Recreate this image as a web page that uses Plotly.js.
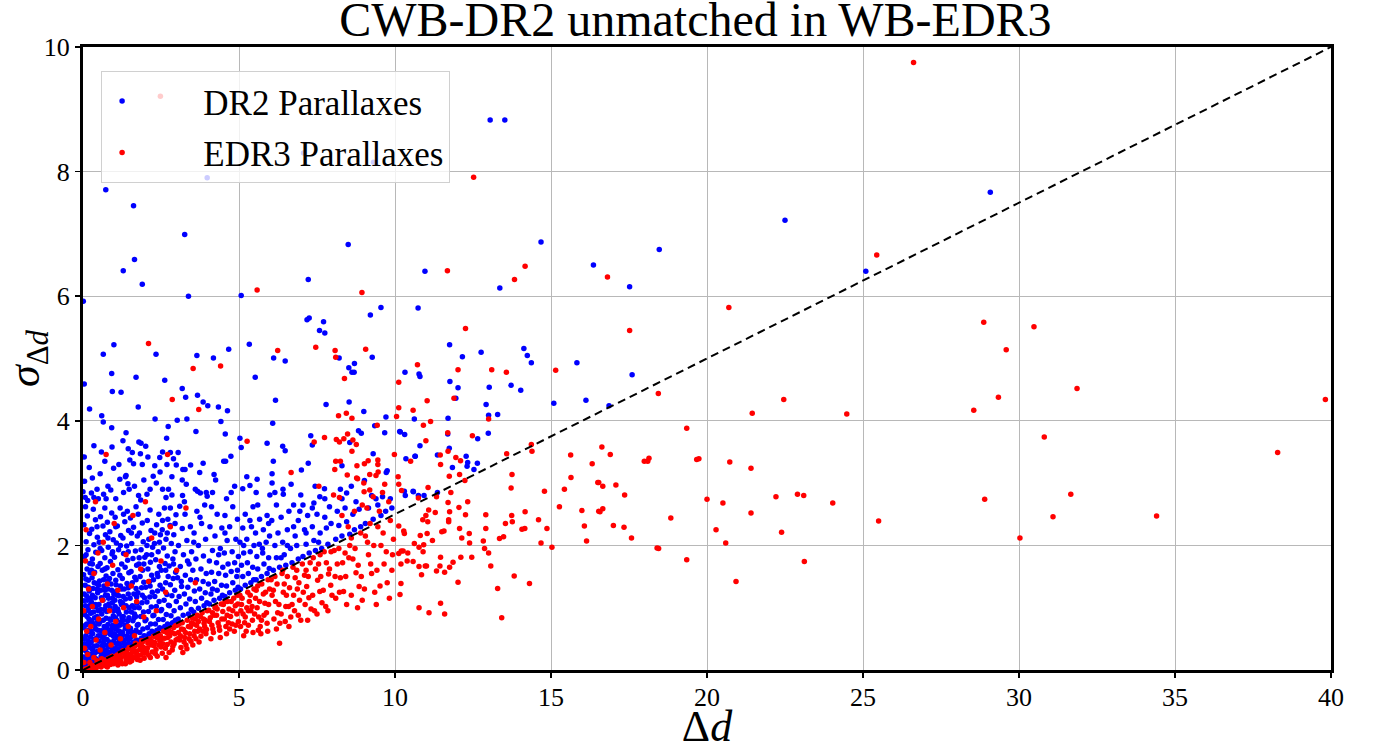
<!DOCTYPE html>
<html>
<head>
<meta charset="utf-8">
<script src="https://cdn.plot.ly/plotly-3.0.1.min.js"></script>
<style>html,body{margin:0;padding:0;background:#fff;}#chart{width:1377px;height:751px;}</style>
</head>
<body>
<div id="chart"></div>
<script>
// ---- DR2 parallaxes (blue): sparse points ----
const dr2Sparse = [
[0.01,5.92],[0.04,4.59],[0.99,5.22],[0.65,5.07],[2.34,5.07],[0.92,4.76],[0.94,4.47],[1.22,4.46],[1.70,4.70],[2.62,4.65],[3.65,5.05],[4.18,5.01],[4.67,5.15],[5.33,5.23],[6.11,5.01],[6.48,4.96],[5.52,4.70],[7.18,5.62],[7.25,5.65],[7.71,5.59],[7.58,5.45],[7.75,5.41],[8.21,5.01],[8.52,4.85],[8.70,4.92],[8.62,4.78],[8.69,4.78],[9.21,5.70],[9.55,5.82],[9.27,5.02],[10.74,5.81],[10.32,4.78],[10.77,4.75],[10.80,4.71],
[0.21,4.19],[0.60,4.08],[0.65,3.98],[0.92,3.89],[1.77,4.22],[2.31,4.03],[3.18,4.52],[3.29,4.38],[3.67,4.41],[3.85,4.30],[4.00,4.24],[4.34,4.22],[4.63,4.16],[3.02,4.01],[3.33,4.03],[2.73,3.91],[4.42,3.99],[3.62,3.83],[4.56,3.79],[1.38,3.81],[1.28,3.68],[0.93,3.58],[1.79,3.66],[1.86,3.64],[2.01,3.59],[2.68,3.72],[0.59,3.50],[0.04,3.42],[1.58,3.49],[1.84,3.47],[2.08,3.42],[1.50,3.37],[1.62,3.31],[2.46,3.41],[2.80,3.49],[3.05,3.49],[2.90,3.39],[2.30,3.28],[2.69,3.30],[2.99,3.29],[3.20,3.22],[3.27,3.22],[3.45,3.29],[3.85,3.32],[4.51,3.35],[4.57,3.35],[4.74,3.43],[2.47,3.18],[2.25,3.11],[3.74,3.17],[4.20,3.14],[0.98,3.24],[0.30,3.08],[0.05,3.03],[1.18,3.06],[1.36,3.10],[1.38,3.12],[1.44,2.99],[1.48,2.90],[0.89,2.89],[2.15,2.90],[3.18,3.05],[3.31,2.98],[2.74,2.90],[3.67,2.87],[3.76,2.84],[4.15,2.85],[0.27,2.84],[0.66,2.82],[0.74,2.75],[1.78,2.80],[2.66,2.77],[2.85,2.81],[3.19,2.80],[3.98,2.79],[4.86,2.95],[5.12,2.91],[5.35,2.96],[5.58,3.06],[5.03,3.72],[5.07,3.57],[5.90,3.64],[6.08,3.96],[6.17,4.33],[6.40,3.59],[6.48,3.52],[6.10,3.35],[6.06,3.15],[6.06,3.00],[7.00,3.21],[7.22,3.32],[6.67,2.98],[6.41,2.90],[6.42,2.82],[5.99,2.81],[6.98,2.81],[7.44,2.95],[7.74,2.91],[7.59,2.78],[7.79,4.26],[7.30,3.76],[7.35,3.61],[8.53,4.30],[9.00,4.15],[9.71,4.06],[9.35,3.92],[8.83,3.84],[8.92,3.80],[9.67,3.81],[8.55,3.65],[9.30,3.47],[8.30,3.28],[9.02,3.04],[9.75,3.20],[9.72,3.17],[9.39,2.75],[10.15,3.83],[10.31,3.78],[10.80,3.60],[10.64,3.43],[10.35,3.39],[10.30,2.87],[10.58,2.87],[10.75,2.80],[10.93,2.80],[8.45,2.84],[1.85,2.73],[0.00,2.86],[0.07,2.77],[0.35,2.77],[0.49,2.75],
[11.75,5.22],[12.16,5.03],[12.76,5.10],[14.13,5.16],[14.24,5.05],[14.37,4.93],[11.76,4.63],[12.02,4.53],[13.02,4.54],[13.72,4.57],[14.03,4.49],[15.83,4.93],[17.60,4.74],[15.09,4.28],[16.12,4.33],[16.86,4.24],[11.95,4.36],[10.62,4.03],[11.70,4.04],[12.92,4.26],[13.00,4.09],[13.29,4.10],[10.17,3.82],[11.69,3.79],[12.65,3.71],[12.99,3.80],[11.74,3.56],[10.65,3.43],[11.36,3.45],[12.28,3.43],[12.33,3.33],[12.31,3.27],[12.64,3.32],[11.84,3.25],[12.53,3.22],[10.59,2.86],[10.33,2.80],[11.36,2.85],
[29.08,7.67],[22.50,7.22],[18.47,6.75],[17.52,6.15],[25.09,6.40],
[0.73,7.71],[1.62,7.45],[3.26,6.99],[1.65,6.59],[1.29,6.41],[1.90,6.19],[3.38,6.00],[5.07,6.01],[7.22,6.27],[8.50,6.83],[10.96,6.40],[13.36,6.13],[14.68,6.87],[16.36,6.50],
[13.05,8.83],[13.52,8.83],[3.98,7.90],[7.07,8.30],[9.31,8.15]
];
// ---- DR2 parallaxes (blue): dense cloud near the origin ----
const dr2Dense = [
[0.02,0.05],[0.05,0.12],[0.11,0.08],[0.03,0.21],[0.18,0.15],[0.08,0.31],[0.14,0.27],[0.22,0.36],[0.04,0.42],[0.16,0.47],[0.09,0.55],[0.21,0.61],[0.02,0.68],[0.12,0.74],[0.19,0.82],[0.06,0.89],[0.15,0.96],[0.23,1.04],[0.03,1.11],[0.11,1.19],[0.2,1.27],[0.07,1.36],[0.17,1.44],[0.02,1.53],[0.13,1.62],[0.22,1.71],[0.05,1.82],[0.16,1.93],[0.1,2.06],[0.21,2.19],[0.03,2.33],[0.14,2.47],[0.08,2.62],
[0.27,0.09],[0.33,0.14],[0.41,0.18],[0.29,0.26],[0.46,0.3],[0.36,0.38],[0.26,0.44],[0.43,0.51],[0.31,0.58],[0.48,0.64],[0.38,0.71],[0.28,0.79],[0.45,0.86],[0.34,0.93],[0.42,1.01],[0.27,1.09],[0.39,1.16],[0.47,1.24],[0.32,1.31],[0.44,1.39],[0.29,1.48],[0.37,1.57],[0.48,1.66],[0.3,1.78],[0.41,1.89],[0.35,2.01],[0.46,2.13],[0.28,2.26],[0.4,2.41],[0.33,2.58],
[0.53,0.16],[0.61,0.21],[0.7,0.24],[0.56,0.29],[0.66,0.33],[0.73,0.4],[0.52,0.46],[0.63,0.52],[0.71,0.58],[0.58,0.63],[0.68,0.7],[0.54,0.77],[0.74,0.83],[0.6,0.9],[0.69,0.97],[0.51,1.05],[0.64,1.12],[0.72,1.2],[0.57,1.28],[0.67,1.35],[0.53,1.43],[0.74,1.51],[0.62,1.6],[0.55,1.71],[0.7,1.8],[0.6,1.92],[0.52,2.05],[0.72,2.17],[0.64,2.31],[0.56,2.46],[0.7,2.6],
[0.78,0.23],[0.86,0.27],[0.95,0.31],[0.81,0.37],[0.91,0.43],[0.77,0.49],[0.98,0.54],[0.84,0.6],[0.93,0.67],[0.8,0.73],[0.89,0.8],[0.97,0.87],[0.76,0.94],[0.87,1.0],[0.94,1.08],[0.82,1.15],[0.99,1.22],[0.79,1.3],[0.9,1.38],[0.85,1.47],[0.96,1.55],[0.77,1.64],[0.88,1.74],[0.93,1.86],[0.81,1.97],[0.97,2.09],[0.86,2.22],[0.78,2.37],[0.92,2.52],
[1.03,0.29],[1.12,0.33],[1.21,0.36],[1.07,0.42],[1.17,0.47],[1.24,0.53],[1.01,0.58],[1.14,0.63],[1.09,0.71],[1.22,0.77],[1.04,0.84],[1.16,0.9],[1.11,0.98],[1.23,1.05],[1.02,1.12],[1.15,1.19],[1.08,1.27],[1.2,1.35],[1.05,1.44],[1.18,1.52],[1.12,1.61],[1.24,1.7],[1.01,1.81],[1.14,1.93],[1.07,2.04],[1.21,2.16],[1.1,2.31],[1.03,2.45],[1.19,2.6],
[1.28,0.35],[1.37,0.39],[1.46,0.43],[1.31,0.48],[1.42,0.55],[1.26,0.61],[1.49,0.66],[1.34,0.72],[1.44,0.79],[1.29,0.86],[1.39,0.93],[1.48,1.0],[1.27,1.07],[1.36,1.14],[1.45,1.22],[1.32,1.3],[1.41,1.39],[1.26,1.47],[1.47,1.56],[1.35,1.65],[1.43,1.76],[1.3,1.87],[1.4,1.99],[1.28,2.12],[1.46,2.24],[1.34,2.38],[1.42,2.55],
[1.53,0.41],[1.62,0.45],[1.71,0.48],[1.57,0.54],[1.67,0.6],[1.52,0.67],[1.74,0.72],[1.6,0.79],[1.69,0.86],[1.55,0.93],[1.65,1.0],[1.73,1.07],[1.51,1.15],[1.63,1.22],[1.7,1.31],[1.58,1.4],[1.66,1.49],[1.54,1.58],[1.72,1.68],[1.6,1.79],[1.68,1.91],[1.56,2.03],[1.74,2.15],[1.62,2.29],[1.52,2.44],[1.7,2.62],
[1.78,0.47],[1.87,0.51],[1.96,0.55],[1.82,0.6],[1.92,0.66],[1.77,0.73],[1.99,0.79],[1.85,0.86],[1.94,0.93],[1.8,1.0],[1.89,1.08],[1.97,1.16],[1.76,1.24],[1.88,1.32],[1.95,1.41],[1.83,1.5],[1.91,1.6],[1.79,1.7],[1.98,1.81],[1.86,1.93],[1.93,2.06],[1.81,2.2],[1.9,2.36],[1.77,2.5],
[2.03,0.54],[2.12,0.58],[2.21,0.62],[2.07,0.68],[2.17,0.74],[2.02,0.81],[2.24,0.87],[2.1,0.94],[2.19,1.01],[2.05,1.09],[2.14,1.17],[2.22,1.25],[2.01,1.33],[2.13,1.42],[2.2,1.52],[2.08,1.62],[2.16,1.73],[2.04,1.85],[2.23,1.97],[2.11,2.1],[2.18,2.24],[2.06,2.4],[2.15,2.57],
[2.28,0.6],[2.37,0.64],[2.46,0.68],[2.32,0.74],[2.42,0.81],[2.27,0.88],[2.49,0.95],[2.35,1.02],[2.44,1.1],[2.3,1.18],[2.39,1.27],[2.47,1.36],[2.26,1.45],[2.38,1.55],[2.45,1.66],[2.33,1.77],[2.41,1.9],[2.29,2.03],[2.48,2.17],[2.36,2.33],[2.43,2.5],
[2.53,0.66],[2.62,0.7],[2.71,0.74],[2.57,0.81],[2.67,0.89],[2.52,0.97],[2.74,1.04],[2.6,1.12],[2.69,1.21],[2.55,1.3],[2.65,1.4],[2.73,1.5],[2.51,1.6],[2.63,1.71],[2.7,1.83],[2.58,1.96],[2.66,2.1],[2.54,2.25],[2.72,2.42],[2.61,2.6],
[2.78,0.72],[2.87,0.76],[2.96,0.8],[2.82,0.87],[2.92,0.95],[2.77,1.03],[2.99,1.1],[2.85,1.19],[2.94,1.28],[2.8,1.37],[2.89,1.47],[2.97,1.57],[2.76,1.67],[2.88,1.78],[2.95,1.9],[2.83,2.03],[2.91,2.17],[2.79,2.32],[2.98,2.49],
[0.06,0.02],[0.12,0.04],[0.19,0.06],[0.24,0.1],[0.09,0.18],[0.01,0.33],[0.25,0.22],[0.2,0.42],[0.11,0.39],[0.06,0.5],[0.24,0.53],[0.17,0.64],[0.08,0.72],[0.23,0.77],[0.13,0.86],[0.03,0.93],[0.25,0.91],[0.19,1.0],[0.08,1.03],[0.14,1.12],[0.24,1.15],[0.04,1.22],[0.17,1.33],[0.09,1.46],[0.23,1.56],
[0.37,0.2],[0.3,0.33],[0.44,0.39],[0.35,0.49],[0.49,0.55],[0.26,0.62],[0.4,0.66],[0.31,0.75],[0.47,0.78],[0.37,0.84],[0.26,0.92],[0.49,0.95],[0.4,1.05],[0.3,1.2],[0.45,1.3],[0.36,1.4],[0.27,1.6],
[0.58,0.22],[0.67,0.27],[0.74,0.31],[0.6,0.39],[0.55,0.55],[0.7,0.5],[0.62,0.62],[0.75,0.66],[0.51,0.74],[0.65,0.8],[0.57,0.97],[0.73,1.03],[0.59,1.16],[0.7,1.28],[0.5,1.36],[0.66,1.45],
[0.81,0.29],[0.92,0.36],[0.85,0.45],[0.99,0.47],[0.88,0.57],[0.79,0.65],[0.95,0.72],[0.86,0.82],[0.99,0.95],[0.83,1.06],[0.95,1.15],[0.78,1.2],[0.92,1.28],[0.8,1.43],
[1.06,0.35],[1.19,0.41],[1.1,0.52],[1.22,0.6],[1.05,0.66],[1.18,0.72],[1.08,0.8],[1.25,0.84],[1.13,0.94],[1.03,1.02],[1.2,1.1],[1.1,1.2],[1.24,1.3],[1.06,1.37],
[1.33,0.43],[1.41,0.5],[1.27,0.56],[1.45,0.61],[1.36,0.67],[1.3,0.8],[1.47,0.84],[1.38,1.03],[1.29,1.18],[1.45,1.32],[1.5,0.5],[1.58,0.6],[1.7,0.64],[1.64,0.84],[1.58,1.03],[1.72,1.17],
[0.15,2.72],[0.45,2.9],[0.55,3.15],[0.8,2.95],[1.05,2.75],[1.15,3.3],[1.3,2.85],[1.65,2.95],[1.95,3.05],[2.05,2.82],[2.35,3.0],[2.55,2.9],[2.85,3.1],[0.2,3.25],[0.7,3.35],[1.9,3.3],[2.55,3.5],[0.35,3.6],[1.45,3.55],
[0.15,0.2],[0.4,0.28],[0.65,0.44],[0.9,0.62],[1.15,0.55],[1.4,0.72],[1.65,0.9],[1.9,1.2],[2.15,1.35],[2.4,1.5],[2.65,1.6],[2.9,1.7],[0.3,1.7],[0.55,1.95],[0.8,2.12],[1.05,2.3],[1.3,2.5],[1.55,2.2],[1.8,1.8],[2.05,2.0],[2.3,2.2],[2.55,2.4],[2.8,2.6],[0.1,1.85],[0.45,2.3],[0.7,1.62],[0.95,1.9],[1.2,2.0],[1.45,1.9],[1.7,1.45],[1.95,1.7],[2.2,1.85],[2.45,2.05],[2.7,2.2],[2.95,2.35]
];
// ---- DR2 parallaxes (blue): medium-density region ----
const dr2Mid = [
[3.05,0.82],[3.21,0.88],[3.38,0.9],[3.12,1.0],[3.3,1.06],[3.47,0.97],[3.08,1.18],[3.25,1.22],[3.42,1.14],[3.16,1.34],[3.36,1.33],[3.03,1.48],[3.28,1.52],[3.45,1.45],[3.12,1.66],[3.4,1.7],[3.22,1.85],[3.48,1.9],[3.06,2.0],[3.33,2.08],[3.18,2.27],[3.44,2.3],[3.27,2.5],[3.1,2.63],
[3.55,0.93],[3.7,0.99],[3.88,1.03],[3.6,1.1],[3.8,1.15],[3.97,1.08],[3.57,1.27],[3.74,1.3],[3.92,1.24],[3.64,1.45],[3.85,1.42],[3.52,1.6],[3.78,1.62],[3.95,1.55],[3.62,1.78],[3.86,1.83],[3.7,2.0],[3.93,2.1],[3.56,2.2],[3.8,2.35],[3.65,2.55],[3.9,2.65],
[4.05,1.06],[4.2,1.12],[4.38,1.15],[4.1,1.22],[4.3,1.28],[4.47,1.2],[4.02,1.38],[4.22,1.42],[4.44,1.36],[4.12,1.57],[4.35,1.55],[4.05,1.75],[4.28,1.72],[4.48,1.65],[4.15,1.92],[4.4,1.95],[4.23,2.15],[4.07,2.3],[4.45,2.28],[4.3,2.5],[4.12,2.62],
[4.55,1.18],[4.7,1.24],[4.88,1.28],[4.6,1.35],[4.8,1.4],[4.97,1.33],[4.57,1.52],[4.75,1.58],[4.93,1.5],[4.65,1.7],[4.86,1.72],[4.53,1.88],[4.78,1.9],[4.98,1.82],[4.62,2.08],[4.9,2.1],[4.7,2.3],[4.55,2.48],[4.95,2.42],[4.8,2.62],
[5.05,1.3],[5.2,1.36],[5.38,1.4],[5.12,1.5],[5.3,1.55],[5.47,1.45],[5.08,1.68],[5.27,1.72],[5.44,1.65],[5.15,1.88],[5.36,1.9],[5.03,2.05],[5.25,2.1],[5.48,2.0],[5.12,2.28],[5.4,2.3],[5.2,2.5],[5.45,2.62],
[5.55,1.45],[5.72,1.5],[5.9,1.55],[5.6,1.62],[5.8,1.7],[5.97,1.63],[5.57,1.82],[5.76,1.88],[5.95,1.8],[5.65,2.02],[5.87,2.05],[5.53,2.2],[5.78,2.25],[5.98,2.15],[5.66,2.42],[5.9,2.48],[5.6,2.65],
[6.1,1.6],[6.3,1.65],[6.5,1.68],[6.2,1.8],[6.45,1.85],[6.7,1.72],[6.9,1.78],[6.15,2.0],[6.4,2.05],[6.65,1.95],[6.85,2.0],[6.25,2.2],[6.55,2.25],[6.8,2.15],[6.05,2.4],[6.35,2.45],[6.6,2.55],[6.9,2.4],[6.2,2.65],[6.75,2.65],
[7.05,1.82],[7.25,1.88],[7.45,1.92],[7.15,2.02],[7.4,2.08],[7.65,1.95],[7.85,2.02],[7.1,2.25],[7.35,2.3],[7.6,2.2],[7.8,2.28],[7.2,2.48],[7.5,2.5],[7.75,2.45],[7.05,2.65],[7.4,2.68],[7.9,2.62],
[8.1,2.1],[8.3,2.15],[8.55,2.18],[8.2,2.32],[8.45,2.38],[8.7,2.25],[8.9,2.3],[8.15,2.55],[8.4,2.6],[8.65,2.5],[8.85,2.58],[8.3,2.75],[8.75,2.7],
[9.05,2.35],[9.3,2.42],[9.55,2.48],[9.15,2.6],[9.45,2.65],[9.7,2.55],[9.9,2.6],[9.25,2.8],[9.6,2.78],[9.85,2.75],
[3.15,1.42],[3.35,1.75],[3.55,2.05],[3.75,2.45],[3.95,2.85],[4.15,1.3],[4.35,1.85],[4.55,2.2],[4.75,2.85],[4.95,1.6],[5.15,2.0],[5.35,2.4],[5.55,2.85],[5.75,1.95],[5.95,2.35],[6.15,2.85],[6.35,1.8],[6.55,2.0],[6.75,2.3],[6.95,2.55],[7.15,2.2],[7.35,2.6],[7.55,2.05],[7.75,2.75],[7.95,2.35],[8.25,2.9],[8.6,2.95],[3.25,2.7],[3.6,2.9],[4.25,3.05],[4.6,2.75],[5.25,3.1]
];
// ---- EDR3 parallaxes (red): sparse points ----
const edr3Sparse = [
[26.62,9.75],[12.52,7.91],[25.44,6.66],[5.58,6.10],[11.68,6.41],[14.17,6.48],[13.83,6.27],[16.81,6.31],[8.94,6.06],[20.70,5.82],[28.87,5.58],[30.48,5.51],[29.59,5.14],[31.86,4.52],[22.46,4.34],[21.45,4.12],[24.48,4.11],[28.55,4.17],[29.34,4.38],[39.82,4.34],[30.81,3.74],[38.29,3.49],[19.74,3.39],[20.73,3.34],[21.41,3.24],[20.00,2.74],[20.51,2.68],[22.21,2.78],[22.90,2.82],[23.10,2.80],[24.03,2.68],[21.41,2.52],[28.90,2.74],[31.66,2.82],[34.41,2.47],[31.09,2.46],[25.50,2.39],[20.29,2.25],[20.60,2.04],[22.39,2.21],[30.03,2.12],[23.12,1.74],[20.93,1.42],
[19.35,3.88],[16.63,3.58],[16.90,3.46],[17.99,3.35],[18.14,3.40],[18.10,3.35],[19.67,3.38],[16.53,3.01],[16.66,2.95],[17.08,2.97],[17.36,2.81],[16.53,2.55],[16.66,2.59],[18.84,2.44],[17.00,2.32],[17.34,2.29],[17.58,2.12],[18.40,1.96],[18.45,1.95],[19.35,1.77],
[12.26,5.48],[10.72,4.90],[12.02,4.82],[13.10,4.82],[13.57,4.78],[10.12,4.62],[15.15,4.81],[17.52,5.45],[18.44,4.44],[11.89,4.36],[11.03,4.32],[10.58,4.17],[10.12,4.21],[13.00,4.03],[10.91,3.93],[11.14,3.99],[11.69,3.81],[12.48,3.76],[10.99,3.68],[11.70,3.51],[14.37,3.62],[14.39,3.51],[13.58,3.47],[15.63,3.45],[16.32,3.31],[10.50,3.35],[11.45,3.45],[11.95,3.41],[12.10,3.36],[11.46,3.30],[11.74,3.11],[12.07,3.14],[12.24,3.04],[13.75,3.14],[13.72,2.92],[15.64,3.09],[16.50,3.01],[15.43,2.90],[14.79,2.87],[10.12,2.98],[10.21,2.88],[11.06,2.93],[11.79,2.85],[10.75,2.76],[11.33,2.78],
[12.33,2.70],[11.70,2.69],[12.05,2.61],[11.08,2.57],[11.29,2.53],[10.99,2.48],[10.89,2.41],[11.05,2.38],[11.75,2.54],[11.72,2.41],[11.72,2.38],[12.26,2.49],[12.91,2.49],[12.07,2.27],[12.91,2.27],[13.54,2.35],[13.74,2.48],[13.76,2.38],[14.17,2.54],[14.07,2.26],[14.16,2.27],[14.60,2.41],[14.87,2.27],[15.27,2.62],[15.99,2.56],[16.07,2.31],[16.14,2.07],[16.57,2.54],
[10.12,2.31],[10.28,2.23],[10.30,2.19],[10.81,2.16],[11.03,2.19],[11.20,2.08],[11.50,2.22],[11.57,2.23],[12.14,2.12],[12.38,2.19],[12.39,2.04],[10.62,2.03],[10.77,1.97],[10.92,2.01],[10.90,1.90],[10.12,1.87],[10.20,1.91],[10.26,1.91],[10.41,1.88],[10.19,1.70],[10.39,1.75],[10.58,1.74],[10.77,1.66],[10.97,1.67],[11.01,1.67],[10.85,1.53],[11.33,1.59],[11.46,1.81],[11.44,1.67],[11.59,1.57],[11.75,1.65],[11.86,1.73],[12.11,1.81],[12.46,1.81],[12.83,2.07],[12.87,1.95],[13.00,1.88],[13.07,1.67],[12.02,1.41],[10.19,1.39],[10.16,1.21],[13.29,1.31],[13.82,1.51],[14.31,1.39],[13.35,2.11],[13.48,2.14],[14.68,2.04],[15.03,1.97],[10.77,1.00],[11.09,0.92],[11.46,1.07],[11.59,0.90],[13.42,0.84],
[2.10,5.24],[3.53,4.84],[4.41,4.88],[6.24,5.13],[7.46,5.18],[8.08,5.13],[8.10,5.02],[8.38,4.68],[9.06,5.15],[2.86,4.34],[3.71,4.18],[0.74,3.46],[2.71,3.46],[5.26,3.67],[6.67,3.17],[7.56,2.95],[7.41,3.66],[7.74,3.73],[8.19,4.08],[8.44,4.12],[8.62,4.04],[9.43,3.93],[10.05,4.07],[8.48,3.79],[8.36,3.71],[8.22,3.66],[8.12,3.70],[8.65,3.69],[8.76,3.62],[8.62,3.51],[9.98,3.46],[8.10,3.35],[8.25,3.35],[8.07,3.22],[8.78,3.28],[9.02,3.31],[9.14,3.36],[9.45,3.37],[9.45,3.30],[9.46,3.18],[9.39,3.12],[9.19,3.14],[8.47,3.13],[8.77,3.08],[8.80,3.07],[9.00,3.00],[9.67,2.98],[9.19,2.89],[10.10,3.10],[8.03,2.81],[8.22,2.77],[9.01,2.86],
[2.48,9.21]
];
// ---- EDR3 parallaxes (red): points mixed into the blue cloud ----
const edr3Mixed = [
[0.05,0.35],[0.12,0.62],[0.02,0.95],[0.18,1.3],[0.08,1.75],[0.25,0.7],[0.3,1.02],[0.42,0.48],[0.35,1.55],[0.5,0.82],[0.55,0.32],[0.62,1.12],[0.48,1.88],[0.7,0.6],[0.78,1.38],[0.85,0.95],[0.9,0.4],[0.95,1.68],[1.05,0.78],[1.12,1.28],[1.2,0.5],[1.3,1.0],[1.38,1.85],[1.45,0.7],[1.55,1.35],[1.65,0.55],[1.72,1.1],[1.85,1.62],[1.95,0.85],[2.1,1.42],[2.2,2.12],[2.35,0.95],[2.5,1.75],[2.65,1.25],[2.8,2.3],[3.0,1.6],[3.3,2.6],[3.6,1.4],[0.1,2.25],[0.4,2.7],[0.65,2.05],[1.0,2.35],[1.6,2.48],[2.0,2.7],[0.22,0.12],[0.15,0.25],[0.35,0.2],[0.45,0.15],[0.6,0.18],[0.03,0.12]
];
// ---- EDR3 parallaxes (red): dense band under the dashed line ----
const edr3Band = [
[0.05,0.01],[0.1,0.02],[0.15,0.02],[0.2,0.04],[0.25,0.03],[0.3,0.06],[0.35,0.05],[0.4,0.08],[0.45,0.06],[0.5,0.1],[0.55,0.08],[0.6,0.12],[0.65,0.1],[0.7,0.14],[0.75,0.11],[0.8,0.16],[0.85,0.13],[0.9,0.19],[0.95,0.15],[1.0,0.21],[0.28,0.02],[0.42,0.03],[0.58,0.05],[0.72,0.07],[0.88,0.09],[0.98,0.1],[0.33,0.07],[0.52,0.12],[0.68,0.16],[0.82,0.19],[0.93,0.22],
[1.02,0.12],[1.06,0.18],[1.1,0.24],[1.14,0.15],[1.18,0.27],[1.22,0.2],[1.26,0.1],[1.3,0.29],[1.34,0.22],[1.38,0.16],[1.42,0.32],[1.46,0.25],[1.5,0.13],[1.54,0.35],[1.58,0.28],[1.62,0.2],[1.66,0.38],[1.7,0.3],[1.74,0.17],[1.78,0.41],[1.82,0.33],[1.86,0.24],[1.9,0.44],[1.94,0.36],[1.98,0.27],[1.12,0.08],[1.36,0.1],[1.56,0.15],[1.76,0.23],[1.96,0.19],[1.28,0.31],[1.48,0.36],[1.68,0.43],[1.88,0.47],[1.83,0.155],
[2.02,0.48],[2.06,0.35],[2.1,0.24],[2.14,0.5],[2.18,0.4],[2.22,0.29],[2.26,0.54],[2.3,0.44],[2.34,0.33],[2.38,0.22],[2.42,0.58],[2.46,0.47],[2.5,0.37],[2.54,0.27],[2.58,0.62],[2.62,0.51],[2.66,0.2],[2.7,0.41],[2.74,0.65],[2.78,0.55],[2.82,0.45],[2.86,0.32],[2.9,0.68],[2.94,0.58],[2.98,0.48],[2.08,0.43],[2.28,0.39],[2.48,0.55],[2.68,0.6],[2.88,0.38],[2.16,0.2],[2.56,0.42],[2.76,0.28],[2.96,0.71],[2.36,0.52],
[3.02,0.72],[3.06,0.6],[3.1,0.48],[3.14,0.36],[3.18,0.76],[3.22,0.65],[3.26,0.52],[3.3,0.4],[3.34,0.8],[3.38,0.7],[3.42,0.58],[3.46,0.46],[3.5,0.84],[3.54,0.74],[3.58,0.62],[3.62,0.5],[3.66,0.88],[3.7,0.78],[3.74,0.66],[3.78,0.54],[3.82,0.92],[3.86,0.82],[3.9,0.7],[3.94,0.58],[3.98,0.95],[3.33,0.34],[3.12,0.55],[3.52,0.4],[3.72,0.45],[3.92,0.8],[3.2,0.28],[3.44,0.69],[3.64,0.72],[3.84,0.62],[3.08,0.74],
[4.03,0.96],[4.08,0.84],[4.13,0.72],[4.18,0.6],[4.23,1.0],[4.28,0.88],[4.33,0.76],[4.38,0.64],[4.43,1.06],[4.48,0.94],[4.53,0.82],[4.58,0.7],[4.63,1.1],[4.68,0.98],[4.73,0.86],[4.78,0.74],[4.83,1.15],[4.88,1.03],[4.93,0.9],[4.98,0.78],[4.1,0.5],[4.4,0.52],[4.6,0.58],[4.85,0.62],[4.25,1.02],[4.55,1.1],[4.95,1.2],[4.15,0.92],[4.7,0.66],
[5.03,1.2],[5.08,1.05],[5.13,0.9],[5.18,0.76],[5.23,0.62],[5.28,1.25],[5.33,1.1],[5.38,0.95],[5.43,0.8],[5.48,1.3],[5.53,1.15],[5.58,1.0],[5.63,0.85],[5.68,0.7],[5.73,1.38],[5.78,1.22],[5.83,1.07],[5.88,0.92],[5.93,1.45],[5.98,1.3],[5.15,0.55],[5.45,0.6],[5.7,0.58],[5.9,0.75],[5.25,1.0],[5.55,1.28],[5.8,0.88],[5.05,0.7],
[6.03,1.45],[6.1,1.28],[6.17,1.1],[6.24,0.92],[6.31,0.75],[6.38,1.55],[6.45,1.38],[6.52,1.2],[6.59,1.02],[6.66,0.85],[6.73,1.65],[6.8,1.48],[6.87,1.3],[6.94,1.12],[6.3,0.43],[6.2,0.66],[6.6,0.7],[6.9,0.88],[6.4,1.6],[6.75,1.2],[6.15,1.5],[6.5,1.02],
[7.03,1.7],[7.1,1.52],[7.17,1.34],[7.24,1.16],[7.31,0.98],[7.38,1.8],[7.45,1.62],[7.52,1.44],[7.59,1.26],[7.66,1.08],[7.73,1.9],[7.8,1.72],[7.87,1.54],[7.94,1.36],[7.2,0.8],[7.5,0.9],[7.85,0.95],[7.6,1.85],[7.15,1.6],[7.95,1.9],
[8.05,1.92],[8.15,1.7],[8.25,1.48],[8.35,1.26],[8.45,1.05],[8.55,2.0],[8.65,1.78],[8.75,1.56],[8.85,1.34],[8.95,1.12],[8.2,1.95],[8.6,2.12],[8.9,2.2],[8.4,1.88],[8.8,1.0],[8.1,1.15],[8.5,2.3],[8.7,2.55],[8.3,2.48],[8.95,2.65],
[9.05,2.15],[9.15,1.85],[9.25,1.55],[9.35,1.25],[9.45,2.3],[9.55,2.0],[9.65,1.7],[9.75,1.4],[9.85,2.4],[9.95,2.1],[9.2,2.35],[9.5,2.55],[9.8,2.7],[9.1,2.6],[9.4,1.05],[9.9,1.6],[9.6,2.85],[9.3,2.78],
[0.12,0.01],[0.38,0.04],[0.62,0.09],[0.78,0.05],[1.05,0.22],[1.2,0.14],[1.33,0.27],[1.44,0.19],[1.6,0.33],[1.72,0.26],[1.84,0.39],[1.92,0.3],[1.52,0.21],[1.16,0.2],
[2.04,0.3],[2.2,0.46],[2.32,0.26],[2.44,0.4],[2.52,0.5],[2.64,0.35],[2.72,0.52],[2.84,0.6],[2.92,0.42],[3.04,0.5],[3.16,0.66],[3.28,0.6],[3.4,0.5],[3.48,0.76],[3.56,0.55],[3.68,0.62],[3.76,0.86],[3.88,0.75],[3.96,0.65],[3.24,0.45],[3.6,0.82],
[4.05,0.78],[4.16,0.66],[4.2,0.88],[4.3,0.98],[4.36,0.7],[4.45,0.82],[4.5,1.05],[4.62,0.88],[4.66,0.76],[4.75,1.1],[4.8,0.95],[4.9,0.72],[4.96,1.06],[5.06,0.95],[5.1,1.15],[5.2,0.85],[5.3,0.72],[5.36,1.2],[5.42,1.02],[5.5,0.9],[5.6,1.35],[5.66,1.1],[5.72,0.8],[5.85,1.25],[5.95,1.05],[5.3,0.95],[5.62,0.64],[5.92,0.62],
[6.06,1.2],[6.12,0.82],[6.22,1.38],[6.28,1.05],[6.35,0.9],[6.42,1.25],[6.48,0.78],[6.55,1.5],[6.62,1.32],[6.7,1.05],[6.78,0.95],[6.85,1.6],[6.92,1.4],[6.98,0.8],[7.06,1.25],[7.12,1.05],[7.22,1.5],[7.28,1.72],[7.36,1.2],[7.42,0.95],[7.55,1.7],[7.62,1.5],[7.7,1.28],[7.78,1.02],[7.9,1.62],[7.98,1.2],
[8.08,1.5],[8.22,1.25],[8.32,1.72],[8.42,1.5],[8.52,1.8],[8.6,1.2],[8.72,1.95],[8.82,1.68],[8.92,1.5],[9.02,1.3],[9.12,2.05],[9.22,1.7],[9.32,2.0],[9.42,1.6],[9.52,1.35],[9.62,2.2],[9.72,1.9],[9.82,1.15],[9.92,1.85]
];
// reference line sigma = delta/4, endpoints
const refLineX = [0, 40];
const refLineY = [0, 10];
const legendNames = ['DR2 Parallaxes', 'EDR3 Parallaxes'];

const dr2 = dr2Sparse.concat(dr2Dense, dr2Mid);
const edr3 = edr3Sparse.concat(edr3Mixed, edr3Band);

const FONT = 'Liberation Serif, Times New Roman, serif';
const PAD = '\u00a0'.repeat(7);
const traces = [
  {type:'scatter', mode:'markers', name: PAD + legendNames[0], legendgroup:'a',
   x: dr2.map(p=>p[0]), y: dr2.map(p=>p[1]),
   marker:{color:'#0000ff', size:5.5, line:{width:0}}},
  {type:'scatter', mode:'markers', name: PAD + legendNames[1], legendgroup:'b',
   x: edr3.map(p=>p[0]), y: edr3.map(p=>p[1]),
   marker:{color:'#ff0000', size:5.5, line:{width:0}}},
  {type:'scatter', mode:'lines', x: refLineX, y: refLineY, showlegend:false, hoverinfo:'skip',
   line:{color:'black', width:2, dash:'8px,5px'}}
];
const axisCommon = {
  showgrid:true, gridcolor:'#b8b8b8', gridwidth:1, zeroline:false,
  showline:true, mirror:true, linecolor:'black', linewidth:3,
  ticks:'outside', ticklen:5, tickwidth:1.5, tickcolor:'black',
  tickfont:{family:FONT, size:26, color:'black'}, automargin:false
};
const layout = {
  width:1377, height:751,
  paper_bgcolor:'white', plot_bgcolor:'white',
  margin:{l:83, r:46, t:47, b:81},
  font:{family:FONT, color:'black'},
  title:{text:'CWB-DR2 unmatched in WB-EDR3', font:{family:FONT, size:48, color:'black'},
         x:0.505, xref:'container', xanchor:'center', y:0.974, yref:'container', yanchor:'middle'},
  xaxis:Object.assign({}, axisCommon, {range:[0,40], tick0:0, dtick:5, ticklabelstandoff:-3,
         title:{text:'Δ<i>d</i>', font:{family:FONT, size:44, color:'black'}, standoff:2}}),
  yaxis:Object.assign({}, axisCommon, {range:[0,10], tick0:0, dtick:2,
         title:{text:'<i>σ</i><sub>Δ<i>d</i></sub>', font:{family:FONT, size:44, color:'black'}, standoff:4}}),
  showlegend:true,
  legend:{x:0.0145, y:0.962, xanchor:'left', yanchor:'top',
          bgcolor:'rgba(255,255,255,0.8)', bordercolor:'#d0d0d0', borderwidth:1,
          font:{family:'Liberation Serif', size:35, color:'black'}, traceorder:'grouped', tracegroupgap:3,
          itemsizing:'trace'}
};
Plotly.newPlot('chart', traces, layout, {displayModeBar:false, staticPlot:true});
</script>
</body>
</html>
